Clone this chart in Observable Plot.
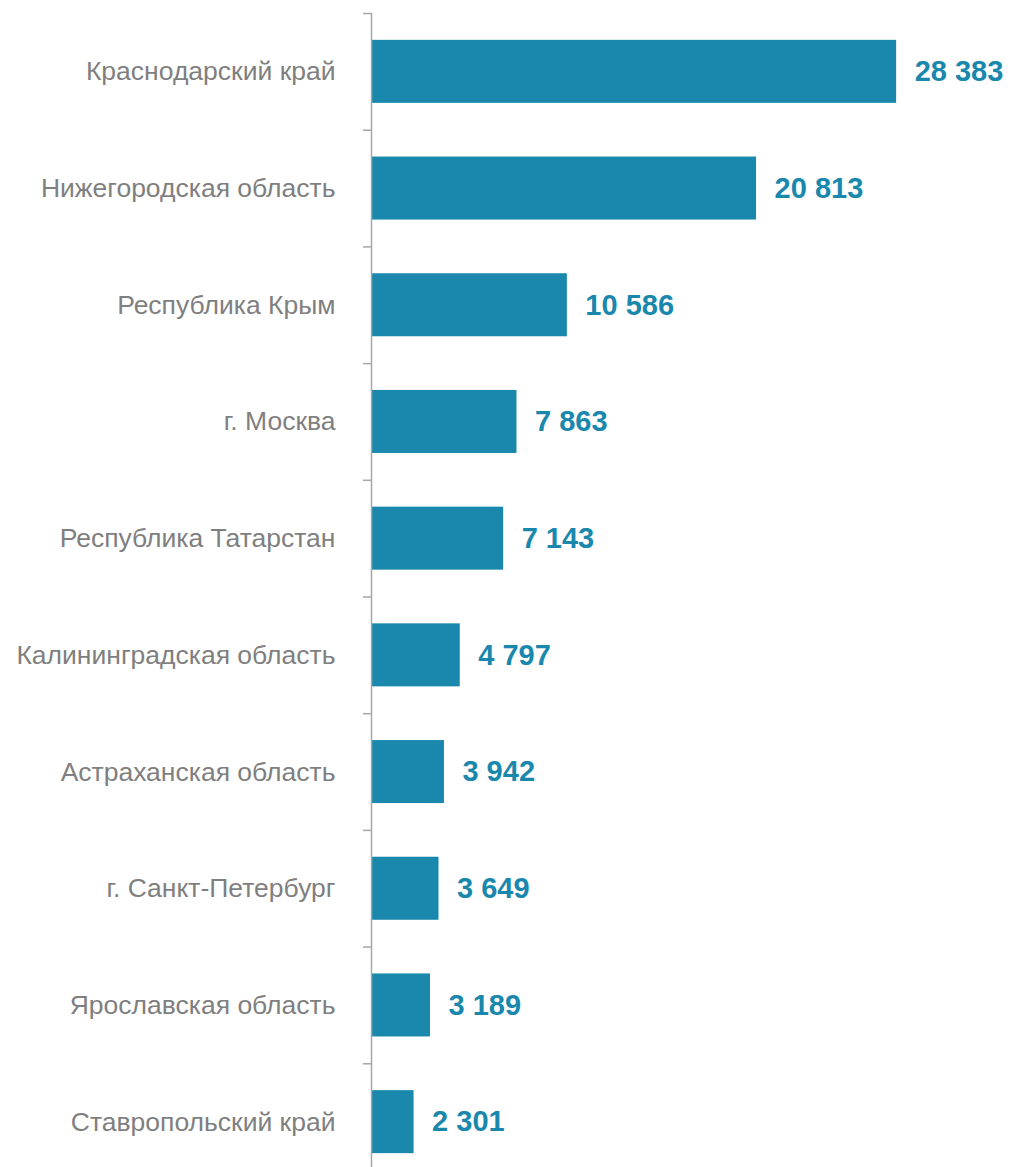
<!DOCTYPE html>
<html><head><meta charset="utf-8">
<script src="https://cdn.jsdelivr.net/npm/d3@7"></script>
<script src="https://cdn.jsdelivr.net/npm/@observablehq/plot@0.6"></script>
<style>html,body{margin:0;padding:0;background:#fff;overflow:hidden}</style>
</head><body><div id="chart"></div>
<script>
const regions = ["Краснодарский край","Нижегородская область","Республика Крым","г. Москва","Республика Татарстан","Калининградская область","Астраханская область","г. Санкт-Петербург","Ярославская область","Ставропольский край"];
const values = [28383,20813,10586,7863,7143,4797,3942,3649,3189,2301];
const data = regions.map((r,i)=>({region:r, value:values[i]}));

const W = 1013, H = 1167, mt = 13, mb = -13;
const step = (H - mt - mb) / regions.length;
const fmt = v => d3.format(",")(v).replace(/,/g, " ");
const teal = "#1a88ac";

const chart = Plot.plot({
  width: W, height: H,
  marginLeft: 371, marginRight: 0, marginTop: mt, marginBottom: mb,
  style: {fontFamily: "'Liberation Sans', Arial, sans-serif", background: "#fff", overflow: "visible"},
  x: {domain: [0, 34700], axis: null},
  y: {domain: regions, paddingInner: 0.46, paddingOuter: 0.23, round: false, axis: null},
  marks: [
    Plot.barX(data, {y: "region", x: "value", fill: teal}),
    Plot.axisY({tickSize: 8, tickFormat: () => "", label: null, dy: -step/2, stroke: "#a6a6a6", strokeWidth: 1.5}),
    Plot.axisY({tickSize: 0, tickPadding: 36, label: null, fontSize: 26.5, fill: "#7f7f7f"}),
    Plot.ruleX([0], {stroke: "#a6a6a6", strokeWidth: 1.5}),
    Plot.text(data, {y: "region", x: "value", text: d => fmt(d.value), textAnchor: "start", dx: 18, fill: teal, fontSize: 29, fontWeight: "bold"})
  ]
});
document.getElementById("chart").appendChild(chart);
</script></body></html>
